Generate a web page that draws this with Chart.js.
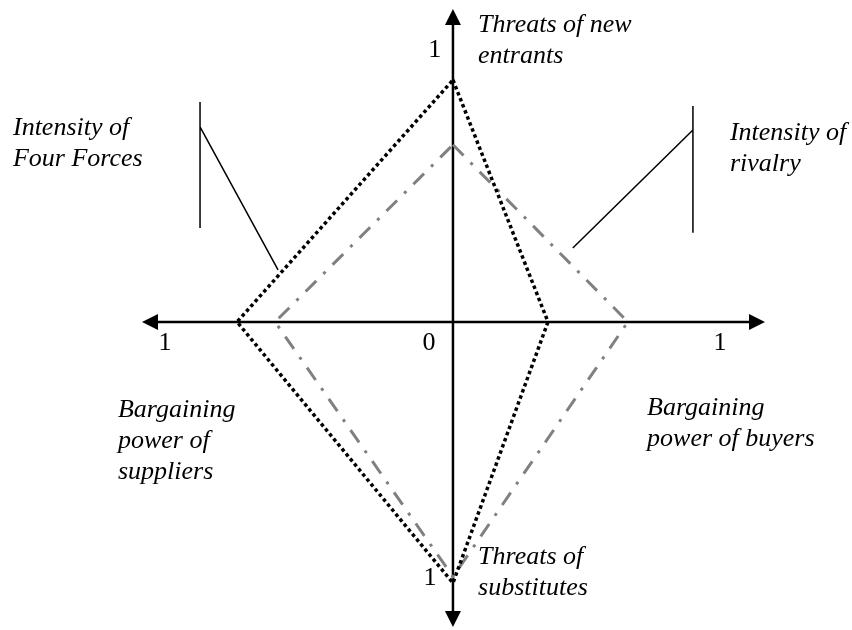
<!DOCTYPE html>
<html>
<head>
<meta charset="utf-8">
<script src="https://cdn.jsdelivr.net/npm/chart.js@4/dist/chart.umd.min.js"></script>
<style>
  html, body { margin: 0; padding: 0; background: #fff; }
  #wrap { width: 852px; height: 630px; }
</style>
</head>
<body>
<div id="wrap"><canvas id="chart" width="852" height="630"></canvas></div>
<script>
// forces, clockwise from the top axis
const forces = ['Threats of new entrants', 'Bargaining power of buyers', 'Threats of substitutes', 'Bargaining power of suppliers'];
const directions = [[0, 1], [1, 0], [0, -1], [-1, 0]];

// intensity of each force, 0..1
const fourForces = [0.896, 0.352, 0.967, 0.8];
const rivalry = [0.656, 0.648, 0.944, 0.659];

// labels round the diagram: text lines and data-space anchor (left edge, first line middle)
const textLabels = [
  { lines: ['Threats of new', 'entrants'], at: [0.093, 1.10] },
  { lines: ['Intensity of', 'Four Forces'], at: [-1.63, 0.719] },
  { lines: ['Intensity of', 'rivalry'], at: [1.026, 0.70] },
  { lines: ['Bargaining', 'power of', 'suppliers'], at: [-1.241, -0.326] },
  { lines: ['Bargaining', 'power of buyers'], at: [0.719, -0.319] },
  { lines: ['Threats of', 'substitutes'], at: [0.093, -0.87] },
];

const tickLabels = [
  { text: '1', at: [-0.067, 1.007] },
  { text: '1', at: [-1.067, -0.078] },
  { text: '1', at: [0.989, -0.078] },
  { text: '1', at: [-0.085, -0.948] },
  { text: '0', at: [-0.089, -0.078] },
];

// bracket leaders pointing at the two polygons
const leaders = [
  [[-0.937, 0.815], [-0.937, 0.348]],
  [[-0.937, 0.722], [-0.648, 0.193]],
  [[0.889, 0.80], [0.889, 0.33]],
  [[0.889, 0.711], [0.444, 0.274]],
];

function polygon(values) {
  const pts = values.map((v, i) => ({ x: directions[i][0] * v, y: directions[i][1] * v }));
  pts.push(pts[0]);
  return pts;
}

const serif = '"Liberation Serif", "Times New Roman", serif';

const overlay = {
  id: 'overlay',
  beforeDatasetsDraw(chart) {
    const { ctx, chartArea: a, scales: { x, y } } = chart;
    const x0 = x.getPixelForValue(0);
    const y0 = y.getPixelForValue(0);
    ctx.save();
    ctx.strokeStyle = '#000';
    ctx.fillStyle = '#000';
    ctx.lineWidth = 2.5;
    ctx.beginPath();
    ctx.moveTo(a.left + 12, y0);
    ctx.lineTo(a.right - 12, y0);
    ctx.moveTo(x0, a.top + 12);
    ctx.lineTo(x0, a.bottom - 12);
    ctx.stroke();

    const head = (tx, ty, dx, dy) => {
      const len = 16, half = 8;
      ctx.beginPath();
      ctx.moveTo(tx, ty);
      ctx.lineTo(tx - dx * len - dy * half, ty - dy * len - dx * half);
      ctx.lineTo(tx - dx * len + dy * half, ty - dy * len + dx * half);
      ctx.closePath();
      ctx.fill();
    };
    head(a.left, y0, -1, 0);
    head(a.right, y0, 1, 0);
    head(x0, a.top, 0, -1);
    head(x0, a.bottom, 0, 1);

    ctx.lineWidth = 1.5;
    ctx.beginPath();
    leaders.forEach(([p, q]) => {
      ctx.moveTo(x.getPixelForValue(p[0]), y.getPixelForValue(p[1]));
      ctx.lineTo(x.getPixelForValue(q[0]), y.getPixelForValue(q[1]));
    });
    ctx.stroke();
    ctx.restore();
  },
  afterDraw(chart) {
    const { ctx, scales: { x, y } } = chart;
    ctx.save();
    ctx.fillStyle = '#000';
    ctx.textBaseline = 'middle';
    ctx.font = 'italic 26px ' + serif;
    ctx.textAlign = 'left';
    textLabels.forEach((l) => {
      const px = x.getPixelForValue(l.at[0]);
      const py = y.getPixelForValue(l.at[1]);
      l.lines.forEach((line, i) => ctx.fillText(line, px, py + i * 31));
    });
    ctx.font = '26px ' + serif;
    ctx.textAlign = 'center';
    tickLabels.forEach((t) => {
      ctx.fillText(t.text, x.getPixelForValue(t.at[0]), y.getPixelForValue(t.at[1]));
    });
    ctx.restore();
  },
};

new Chart(document.getElementById('chart'), {
  type: 'scatter',
  data: {
    datasets: [
      {
        label: 'Intensity of Four Forces',
        data: polygon(fourForces),
        showLine: true,
        borderColor: '#000',
        borderWidth: 3.5,
        borderDash: [3.5, 3],
        pointRadius: 0,
        fill: false,
      },
      {
        label: 'Intensity of rivalry',
        data: polygon(rivalry),
        showLine: true,
        borderColor: '#808080',
        borderWidth: 3,
        borderDash: [15, 10, 3, 10],
        pointRadius: 0,
        fill: false,
      },
    ],
  },
  options: {
    responsive: false,
    animation: false,
    layout: { padding: { left: 142, right: 87, top: 9, bottom: 3 } },
    scales: {
      x: { type: 'linear', min: -1.152, max: 1.156, display: false },
      y: { type: 'linear', min: -1.13, max: 1.159, display: false },
    },
    plugins: {
      legend: { display: false },
      tooltip: { enabled: false },
    },
  },
  plugins: [overlay],
});
</script>
</body>
</html>
